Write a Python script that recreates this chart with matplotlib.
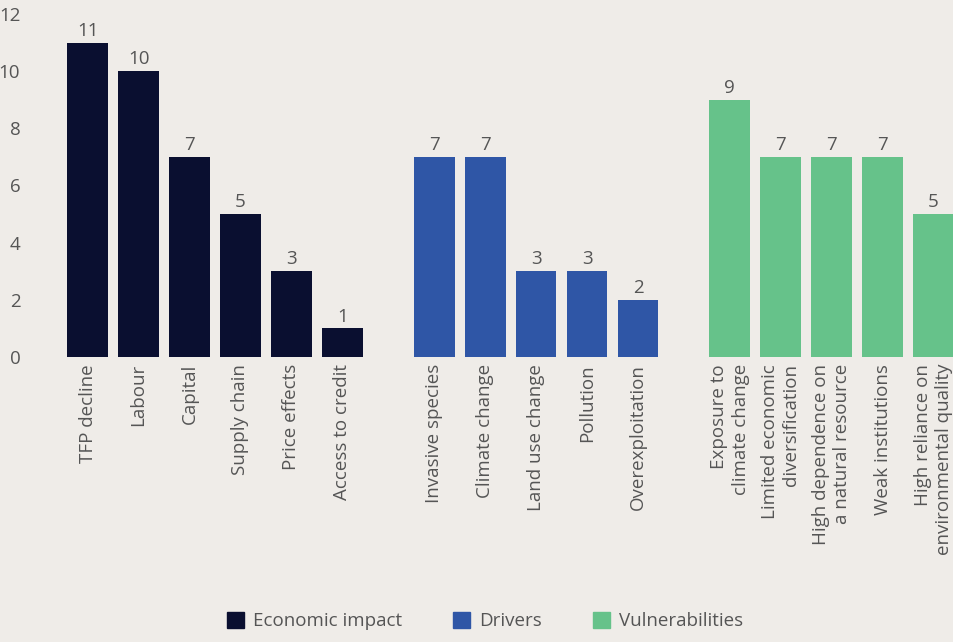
import matplotlib
matplotlib.use("Agg")
import matplotlib.pyplot as plt
import matplotlib.patches as mpatches
import numpy as np

BG = "#efece8"
NAVY = "#0a0f30"
BLUE = "#2f56a6"
GREEN = "#66c28a"
TEXT = "#555555"

plt.rcParams["font.family"] = ["Open Sans", "DejaVu Sans"]

# data
econ_labels = ["TFP decline", "Labour", "Capital", "Supply chain", "Price effects", "Access to credit"]
econ_values = [11, 10, 7, 5, 3, 1]
driver_labels = ["Invasive species", "Climate change", "Land use change", "Pollution", "Overexploitation"]
driver_values = [7, 7, 3, 3, 2]
vuln_labels = ["Exposure to\nclimate change", "Limited economic\ndiversification",
               "High dependence on\na natural resource", "Weak institutions",
               "High reliance on\nenvironmental quality"]
vuln_values = [9, 7, 7, 7, 5]

groups = [
    ("Economic impact", econ_labels, econ_values, NAVY),
    ("Drivers", driver_labels, driver_values, BLUE),
    ("Vulnerabilities", vuln_labels, vuln_values, GREEN),
]

GAP = 1.8  # spacing between last bar of a group and first bar of the next
FS = 13.5

fig = plt.figure(figsize=(9.54, 6.42), dpi=100, facecolor=BG)
ax = fig.add_axes([30 / 954, 1 - 357 / 642, 924 / 954, (357 - 14) / 642])
ax.set_facecolor(BG)

start = 0.0
ticks, ticklabels, handles = [], [], []
for name, labels, values, color in groups:
    x = start + np.arange(len(values))
    ax.bar(x, values, width=0.8, color=color)
    for xi, v in zip(x, values):
        ax.text(xi, v + 0.1, str(v), ha="center", va="bottom", fontsize=FS, color=TEXT)
    ticks.extend(x)
    ticklabels.extend(labels)
    handles.append(mpatches.Patch(color=color, label=name))
    start = x[-1] + GAP

ax.set_xlim(-1.13, 17.0)
ax.set_ylim(0, 12)
ax.set_yticks(range(0, 13, 2))
ax.set_xticks(ticks)
ax.set_xticklabels(ticklabels, rotation=90, multialignment="right", linespacing=1.25)
ax.tick_params(axis="both", length=0, labelsize=FS, labelcolor=TEXT)
ax.tick_params(axis="x", pad=5)
ax.tick_params(axis="y", pad=7)
for s in ax.spines.values():
    s.set_visible(False)

fig.legend(handles=handles, loc="lower center", bbox_to_anchor=(485 / 954, -0.008),
           ncol=3, frameon=False, fontsize=FS, labelcolor=TEXT,
           handlelength=0.9, handleheight=0.9, handletextpad=0.5, columnspacing=2.7)

fig.savefig("out.png", dpi=100, facecolor=BG)
